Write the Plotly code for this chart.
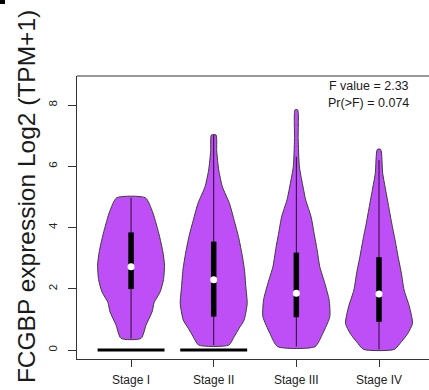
import plotly.graph_objects as go

# ---------------- data ----------------
stages = ["Stage I", "Stage II", "Stage III", "Stage IV"]

# violin outlines: expression levels and relative density (1 = widest point)
levels_I = [0.38, 0.82, 1.25, 1.55, 1.90, 2.30, 2.77, 3.21, 3.76, 4.24, 4.52, 4.97]
dens_I = [0.30, 0.45, 0.63, 0.69, 0.87, 0.97, 1.00, 0.95, 0.84, 0.72, 0.64, 0.43]

levels_II = [0.16, 0.43, 0.71, 0.98, 1.52, 2.07, 2.61, 3.16, 3.70, 4.24, 4.79, 5.33, 5.88, 6.50, 7.02]
dens_II = [0.45, 0.61, 0.76, 0.91, 1.00, 0.96, 0.92, 0.84, 0.74, 0.61, 0.47, 0.26, 0.15, 0.09, 0.07]

levels_III = [0.11, 0.54, 1.09, 1.63, 2.18, 2.72, 3.27, 3.81, 4.35, 4.90, 5.44, 5.99, 6.90, 7.84]
dens_III = [0.56, 0.79, 1.00, 0.98, 0.85, 0.70, 0.62, 0.53, 0.44, 0.28, 0.18, 0.09, 0.055, 0.04]

levels_IV = [0.02, 0.27, 0.54, 0.87, 1.41, 1.96, 2.50, 3.05, 3.59, 4.14, 4.68, 5.22, 5.77, 6.55]
dens_IV = [0.46, 0.67, 0.86, 1.00, 0.91, 0.75, 0.67, 0.57, 0.48, 0.38, 0.29, 0.20, 0.11, 0.05]

# box-plot statistics
q1 = [1.99, 1.09, 1.07, 0.92]
median = [2.72, 2.29, 1.85, 1.83]
q3 = [3.84, 3.54, 3.18, 3.03]
whisker_lo = [0.38, 0.16, 0.11, 0.02]
whisker_hi = [4.97, 7.02, 6.31, 6.20]

# horizontal bars drawn at zero for the first two stages
zero_bar_stages = ["Stage I", "Stage II"]
zero_bar_values = [0, 0]

y_ticks = [0, 2, 4, 6, 8]
f_value = 2.33
p_value = 0.074

# ---------------- styling ----------------
FONT = "Arial, Liberation Sans, sans-serif"
VIOLIN_FILL = "#BE4FF6"
OUTLINE = "#3a3a3a"
AXIS = "#333333"
HALF_WIDTH = 0.405  # half width of widest violin point in category units

levels_all = [levels_I, levels_II, levels_III, levels_IV]
dens_all = [dens_I, dens_II, dens_III, dens_IV]

fig = go.Figure()

for i, (lv, dn) in enumerate(zip(levels_all, dens_all)):
    pos = i + 1
    xs = [pos + d * HALF_WIDTH for d in dn] + [pos - d * HALF_WIDTH for d in reversed(dn)]
    ys = list(lv) + list(reversed(lv))
    xs.append(xs[0])
    ys.append(ys[0])
    fig.add_trace(go.Scatter(
        x=xs, y=ys, mode="lines", fill="toself", fillcolor=VIOLIN_FILL,
        line=dict(color=OUTLINE, width=1, shape="spline", smoothing=0.6),
        hoverinfo="skip", showlegend=False))

# zero bars
for st, v in zip(zero_bar_stages, zero_bar_values):
    pos = stages.index(st) + 1
    fig.add_trace(go.Scatter(
        x=[pos - HALF_WIDTH, pos + HALF_WIDTH], y=[v, v], mode="lines",
        line=dict(color="black", width=3), hoverinfo="skip", showlegend=False))

# whiskers, boxes, medians
for i in range(len(stages)):
    pos = i + 1
    fig.add_trace(go.Scatter(
        x=[pos, pos], y=[whisker_lo[i], whisker_hi[i]], mode="lines",
        line=dict(color="#2a0a33", width=1), hoverinfo="skip", showlegend=False))
    fig.add_trace(go.Scatter(
        x=[pos, pos], y=[q1[i], q3[i]], mode="lines",
        line=dict(color="black", width=5.5), hoverinfo="skip", showlegend=False))

fig.add_trace(go.Scatter(
    x=[i + 1 for i in range(len(stages))], y=median, mode="markers",
    marker=dict(color="white", size=7, line=dict(width=0)),
    hoverinfo="skip", showlegend=False))

fig.update_layout(
    width=429, height=390,
    margin=dict(l=77, r=0, t=76, b=31),
    paper_bgcolor="white", plot_bgcolor="white",
    font=dict(family=FONT, color="#222222"),
    showlegend=False,
    xaxis=dict(
        range=[0.346, 4.605], tickmode="array",
        tickvals=[i + 1 for i in range(len(stages))], ticktext=stages,
        showline=True, linecolor=AXIS, linewidth=1, mirror=False,
        ticks="outside", ticklen=7, tickcolor=AXIS, tickwidth=1,
        showgrid=False, zeroline=False,
        tickfont=dict(size=12, family=FONT, color="#222222"),
        ticklabelstandoff=3,
    ),
    yaxis=dict(
        range=[-0.294, 8.947], tickmode="array", tickvals=y_ticks,
        ticktext=[str(t) for t in y_ticks], tickangle=-90,
        showline=True, linecolor=AXIS, linewidth=1, mirror=False,
        ticks="outside", ticklen=8, tickcolor=AXIS, tickwidth=1,
        showgrid=False, zeroline=False,
        tickfont=dict(size=11.5, family=FONT, color="#222222"),
        ticklabelstandoff=6,
    ),
    shapes=[
        dict(type="line", xref="paper", yref="paper", x0=0, x1=1, y0=1, y1=1,
             line=dict(color=AXIS, width=1)),
        dict(type="rect", xref="paper", yref="paper",
             x0=-0.21875, x1=-0.2045, y0=1.2544, y1=1.27,
             fillcolor="black", line=dict(width=0)),
    ],
    annotations=[
        dict(text="FCGBP expression Log2 (TPM+1)", textangle=-90,
             xref="paper", yref="paper", x=0, y=0.572, xshift=-51,
             xanchor="center", yanchor="middle", showarrow=False,
             font=dict(size=24.5, family=FONT, color="#1a1a1a")),
        dict(text=f"F value = {f_value}", xref="paper", yref="paper",
             x=0.949, y=0.963, xanchor="right", yanchor="middle", showarrow=False,
             font=dict(size=12.5, family=FONT, color="#1a1a1a")),
        dict(text=f"Pr(>F) = {p_value}", xref="paper", yref="paper",
             x=0.949, y=0.906, xanchor="right", yanchor="middle", showarrow=False,
             font=dict(size=12.5, family=FONT, color="#1a1a1a")),
    ],
)

fig.write_html(
    "out.html",
    config={"displayModeBar": False},
    post_script=["document.body.style.margin='0';document.body.style.padding='0';"],
)
